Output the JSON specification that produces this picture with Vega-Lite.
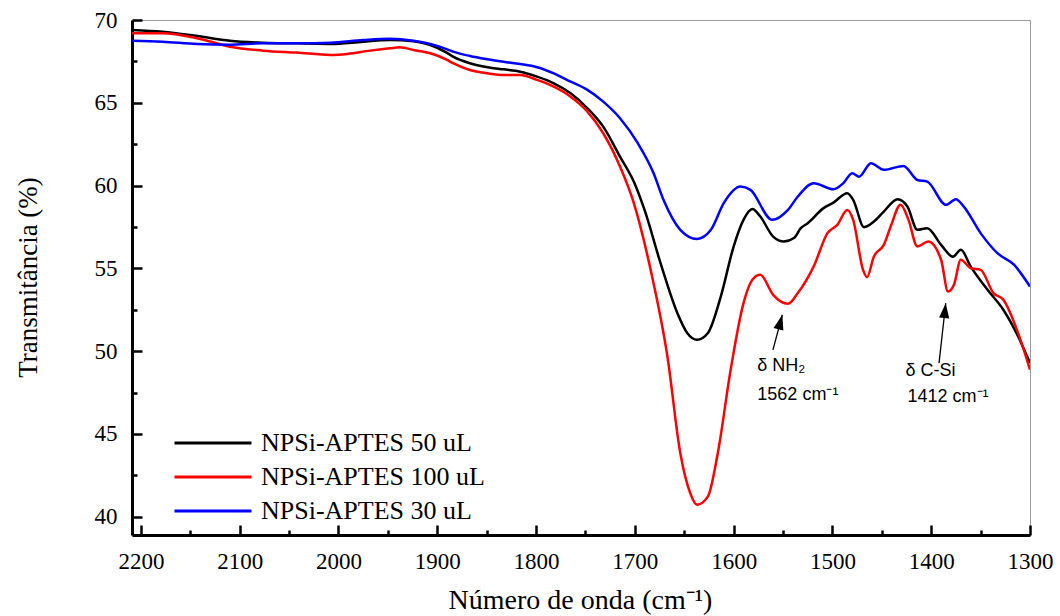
{
  "$schema": "https://vega.github.io/schema/vega-lite/v6.json",
  "width": 898,
  "height": 515,
  "autosize": "none",
  "padding": {"left": 132, "top": 20, "right": 30, "bottom": 81},
  "background": "white",
  "config": {
    "view": {"stroke": "#9a9a9a", "strokeWidth": 1},
    "font": "Liberation Serif"
  },
  "datasets": {
    "spec": [
      {"s": "NPSi-APTES 50 uL", "w": 2209, "t": 69.40},
      {"s": "NPSi-APTES 50 uL", "w": 2178, "t": 69.29},
      {"s": "NPSi-APTES 50 uL", "w": 2143, "t": 69.03},
      {"s": "NPSi-APTES 50 uL", "w": 2110, "t": 68.75},
      {"s": "NPSi-APTES 50 uL", "w": 2076, "t": 68.63},
      {"s": "NPSi-APTES 50 uL", "w": 2042, "t": 68.59},
      {"s": "NPSi-APTES 50 uL", "w": 2008, "t": 68.55},
      {"s": "NPSi-APTES 50 uL", "w": 1975, "t": 68.69},
      {"s": "NPSi-APTES 50 uL", "w": 1948, "t": 68.79},
      {"s": "NPSi-APTES 50 uL", "w": 1924, "t": 68.71},
      {"s": "NPSi-APTES 50 uL", "w": 1907, "t": 68.49},
      {"s": "NPSi-APTES 50 uL", "w": 1890, "t": 68.01},
      {"s": "NPSi-APTES 50 uL", "w": 1884, "t": 67.79},
      {"s": "NPSi-APTES 50 uL", "w": 1867, "t": 67.39},
      {"s": "NPSi-APTES 50 uL", "w": 1849, "t": 67.15},
      {"s": "NPSi-APTES 50 uL", "w": 1833, "t": 67.02},
      {"s": "NPSi-APTES 50 uL", "w": 1816, "t": 66.88},
      {"s": "NPSi-APTES 50 uL", "w": 1799, "t": 66.58},
      {"s": "NPSi-APTES 50 uL", "w": 1782, "t": 66.18},
      {"s": "NPSi-APTES 50 uL", "w": 1765, "t": 65.58},
      {"s": "NPSi-APTES 50 uL", "w": 1748, "t": 64.67},
      {"s": "NPSi-APTES 50 uL", "w": 1732, "t": 63.56},
      {"s": "NPSi-APTES 50 uL", "w": 1715, "t": 61.75},
      {"s": "NPSi-APTES 50 uL", "w": 1700, "t": 60.10},
      {"s": "NPSi-APTES 50 uL", "w": 1690, "t": 58.50},
      {"s": "NPSi-APTES 50 uL", "w": 1674, "t": 55.32},
      {"s": "NPSi-APTES 50 uL", "w": 1657, "t": 52.31},
      {"s": "NPSi-APTES 50 uL", "w": 1647, "t": 51.10},
      {"s": "NPSi-APTES 50 uL", "w": 1637, "t": 50.69},
      {"s": "NPSi-APTES 50 uL", "w": 1626, "t": 51.10},
      {"s": "NPSi-APTES 50 uL", "w": 1613, "t": 53.30},
      {"s": "NPSi-APTES 50 uL", "w": 1600, "t": 56.32},
      {"s": "NPSi-APTES 50 uL", "w": 1590, "t": 57.93},
      {"s": "NPSi-APTES 50 uL", "w": 1581, "t": 58.58},
      {"s": "NPSi-APTES 50 uL", "w": 1573, "t": 58.13},
      {"s": "NPSi-APTES 50 uL", "w": 1560, "t": 56.92},
      {"s": "NPSi-APTES 50 uL", "w": 1549, "t": 56.62},
      {"s": "NPSi-APTES 50 uL", "w": 1539, "t": 56.83},
      {"s": "NPSi-APTES 50 uL", "w": 1532, "t": 57.43},
      {"s": "NPSi-APTES 50 uL", "w": 1525, "t": 57.73},
      {"s": "NPSi-APTES 50 uL", "w": 1509, "t": 58.64},
      {"s": "NPSi-APTES 50 uL", "w": 1499, "t": 58.97},
      {"s": "NPSi-APTES 50 uL", "w": 1485, "t": 59.54},
      {"s": "NPSi-APTES 50 uL", "w": 1479, "t": 59.14},
      {"s": "NPSi-APTES 50 uL", "w": 1468, "t": 57.49},
      {"s": "NPSi-APTES 50 uL", "w": 1458, "t": 57.83},
      {"s": "NPSi-APTES 50 uL", "w": 1448, "t": 58.43},
      {"s": "NPSi-APTES 50 uL", "w": 1434, "t": 59.18},
      {"s": "NPSi-APTES 50 uL", "w": 1424, "t": 58.73},
      {"s": "NPSi-APTES 50 uL", "w": 1414, "t": 57.33},
      {"s": "NPSi-APTES 50 uL", "w": 1404, "t": 57.43},
      {"s": "NPSi-APTES 50 uL", "w": 1390, "t": 56.42},
      {"s": "NPSi-APTES 50 uL", "w": 1378, "t": 55.71},
      {"s": "NPSi-APTES 50 uL", "w": 1370, "t": 56.12},
      {"s": "NPSi-APTES 50 uL", "w": 1360, "t": 55.11},
      {"s": "NPSi-APTES 50 uL", "w": 1343, "t": 53.71},
      {"s": "NPSi-APTES 50 uL", "w": 1327, "t": 52.50},
      {"s": "NPSi-APTES 50 uL", "w": 1312, "t": 50.89},
      {"s": "NPSi-APTES 50 uL", "w": 1300, "t": 49.28},

      {"s": "NPSi-APTES 100 uL", "w": 2209, "t": 69.20},
      {"s": "NPSi-APTES 100 uL", "w": 2178, "t": 69.20},
      {"s": "NPSi-APTES 100 uL", "w": 2143, "t": 68.90},
      {"s": "NPSi-APTES 100 uL", "w": 2110, "t": 68.39},
      {"s": "NPSi-APTES 100 uL", "w": 2076, "t": 68.15},
      {"s": "NPSi-APTES 100 uL", "w": 2042, "t": 68.03},
      {"s": "NPSi-APTES 100 uL", "w": 2008, "t": 67.89},
      {"s": "NPSi-APTES 100 uL", "w": 1991, "t": 67.95},
      {"s": "NPSi-APTES 100 uL", "w": 1968, "t": 68.15},
      {"s": "NPSi-APTES 100 uL", "w": 1948, "t": 68.29},
      {"s": "NPSi-APTES 100 uL", "w": 1938, "t": 68.35},
      {"s": "NPSi-APTES 100 uL", "w": 1924, "t": 68.19},
      {"s": "NPSi-APTES 100 uL", "w": 1907, "t": 67.99},
      {"s": "NPSi-APTES 100 uL", "w": 1890, "t": 67.59},
      {"s": "NPSi-APTES 100 uL", "w": 1884, "t": 67.39},
      {"s": "NPSi-APTES 100 uL", "w": 1867, "t": 66.98},
      {"s": "NPSi-APTES 100 uL", "w": 1849, "t": 66.78},
      {"s": "NPSi-APTES 100 uL", "w": 1833, "t": 66.68},
      {"s": "NPSi-APTES 100 uL", "w": 1816, "t": 66.68},
      {"s": "NPSi-APTES 100 uL", "w": 1799, "t": 66.38},
      {"s": "NPSi-APTES 100 uL", "w": 1782, "t": 65.97},
      {"s": "NPSi-APTES 100 uL", "w": 1765, "t": 65.37},
      {"s": "NPSi-APTES 100 uL", "w": 1748, "t": 64.47},
      {"s": "NPSi-APTES 100 uL", "w": 1732, "t": 63.16},
      {"s": "NPSi-APTES 100 uL", "w": 1715, "t": 61.15},
      {"s": "NPSi-APTES 100 uL", "w": 1701, "t": 58.94},
      {"s": "NPSi-APTES 100 uL", "w": 1684, "t": 54.91},
      {"s": "NPSi-APTES 100 uL", "w": 1667, "t": 49.68},
      {"s": "NPSi-APTES 100 uL", "w": 1654, "t": 43.85},
      {"s": "NPSi-APTES 100 uL", "w": 1644, "t": 41.44},
      {"s": "NPSi-APTES 100 uL", "w": 1637, "t": 40.73},
      {"s": "NPSi-APTES 100 uL", "w": 1626, "t": 41.23},
      {"s": "NPSi-APTES 100 uL", "w": 1616, "t": 43.85},
      {"s": "NPSi-APTES 100 uL", "w": 1603, "t": 48.88},
      {"s": "NPSi-APTES 100 uL", "w": 1590, "t": 52.90},
      {"s": "NPSi-APTES 100 uL", "w": 1581, "t": 54.31},
      {"s": "NPSi-APTES 100 uL", "w": 1573, "t": 54.61},
      {"s": "NPSi-APTES 100 uL", "w": 1560, "t": 53.40},
      {"s": "NPSi-APTES 100 uL", "w": 1545, "t": 52.86},
      {"s": "NPSi-APTES 100 uL", "w": 1535, "t": 53.51},
      {"s": "NPSi-APTES 100 uL", "w": 1519, "t": 55.11},
      {"s": "NPSi-APTES 100 uL", "w": 1505, "t": 57.13},
      {"s": "NPSi-APTES 100 uL", "w": 1495, "t": 57.63},
      {"s": "NPSi-APTES 100 uL", "w": 1485, "t": 58.53},
      {"s": "NPSi-APTES 100 uL", "w": 1479, "t": 57.93},
      {"s": "NPSi-APTES 100 uL", "w": 1469, "t": 54.91},
      {"s": "NPSi-APTES 100 uL", "w": 1465, "t": 54.47},
      {"s": "NPSi-APTES 100 uL", "w": 1458, "t": 55.72},
      {"s": "NPSi-APTES 100 uL", "w": 1448, "t": 56.42},
      {"s": "NPSi-APTES 100 uL", "w": 1441, "t": 57.53},
      {"s": "NPSi-APTES 100 uL", "w": 1431, "t": 58.84},
      {"s": "NPSi-APTES 100 uL", "w": 1423, "t": 57.93},
      {"s": "NPSi-APTES 100 uL", "w": 1414, "t": 56.32},
      {"s": "NPSi-APTES 100 uL", "w": 1403, "t": 56.62},
      {"s": "NPSi-APTES 100 uL", "w": 1390, "t": 55.52},
      {"s": "NPSi-APTES 100 uL", "w": 1383, "t": 53.60},
      {"s": "NPSi-APTES 100 uL", "w": 1377, "t": 54.01},
      {"s": "NPSi-APTES 100 uL", "w": 1370, "t": 55.52},
      {"s": "NPSi-APTES 100 uL", "w": 1360, "t": 55.01},
      {"s": "NPSi-APTES 100 uL", "w": 1350, "t": 54.91},
      {"s": "NPSi-APTES 100 uL", "w": 1337, "t": 53.51},
      {"s": "NPSi-APTES 100 uL", "w": 1327, "t": 53.10},
      {"s": "NPSi-APTES 100 uL", "w": 1312, "t": 51.09},
      {"s": "NPSi-APTES 100 uL", "w": 1300, "t": 48.88},

      {"s": "NPSi-APTES 30 uL", "w": 2209, "t": 68.75},
      {"s": "NPSi-APTES 30 uL", "w": 2178, "t": 68.69},
      {"s": "NPSi-APTES 30 uL", "w": 2143, "t": 68.55},
      {"s": "NPSi-APTES 30 uL", "w": 2110, "t": 68.51},
      {"s": "NPSi-APTES 30 uL", "w": 2076, "t": 68.59},
      {"s": "NPSi-APTES 30 uL", "w": 2042, "t": 68.59},
      {"s": "NPSi-APTES 30 uL", "w": 2008, "t": 68.63},
      {"s": "NPSi-APTES 30 uL", "w": 1975, "t": 68.79},
      {"s": "NPSi-APTES 30 uL", "w": 1948, "t": 68.87},
      {"s": "NPSi-APTES 30 uL", "w": 1924, "t": 68.75},
      {"s": "NPSi-APTES 30 uL", "w": 1907, "t": 68.55},
      {"s": "NPSi-APTES 30 uL", "w": 1890, "t": 68.23},
      {"s": "NPSi-APTES 30 uL", "w": 1884, "t": 68.09},
      {"s": "NPSi-APTES 30 uL", "w": 1867, "t": 67.83},
      {"s": "NPSi-APTES 30 uL", "w": 1849, "t": 67.63},
      {"s": "NPSi-APTES 30 uL", "w": 1833, "t": 67.48},
      {"s": "NPSi-APTES 30 uL", "w": 1816, "t": 67.34},
      {"s": "NPSi-APTES 30 uL", "w": 1799, "t": 67.15},
      {"s": "NPSi-APTES 30 uL", "w": 1782, "t": 66.78},
      {"s": "NPSi-APTES 30 uL", "w": 1765, "t": 66.28},
      {"s": "NPSi-APTES 30 uL", "w": 1748, "t": 65.78},
      {"s": "NPSi-APTES 30 uL", "w": 1732, "t": 65.07},
      {"s": "NPSi-APTES 30 uL", "w": 1715, "t": 64.07},
      {"s": "NPSi-APTES 30 uL", "w": 1697, "t": 62.56},
      {"s": "NPSi-APTES 30 uL", "w": 1681, "t": 60.75},
      {"s": "NPSi-APTES 30 uL", "w": 1671, "t": 59.14},
      {"s": "NPSi-APTES 30 uL", "w": 1654, "t": 57.33},
      {"s": "NPSi-APTES 30 uL", "w": 1637, "t": 56.78},
      {"s": "NPSi-APTES 30 uL", "w": 1623, "t": 57.33},
      {"s": "NPSi-APTES 30 uL", "w": 1610, "t": 58.94},
      {"s": "NPSi-APTES 30 uL", "w": 1593, "t": 59.94},
      {"s": "NPSi-APTES 30 uL", "w": 1583, "t": 59.74},
      {"s": "NPSi-APTES 30 uL", "w": 1561, "t": 57.93},
      {"s": "NPSi-APTES 30 uL", "w": 1545, "t": 58.53},
      {"s": "NPSi-APTES 30 uL", "w": 1535, "t": 59.34},
      {"s": "NPSi-APTES 30 uL", "w": 1519, "t": 60.14},
      {"s": "NPSi-APTES 30 uL", "w": 1499, "t": 59.78},
      {"s": "NPSi-APTES 30 uL", "w": 1489, "t": 60.14},
      {"s": "NPSi-APTES 30 uL", "w": 1480, "t": 60.75},
      {"s": "NPSi-APTES 30 uL", "w": 1473, "t": 60.54},
      {"s": "NPSi-APTES 30 uL", "w": 1461, "t": 61.35},
      {"s": "NPSi-APTES 30 uL", "w": 1448, "t": 60.95},
      {"s": "NPSi-APTES 30 uL", "w": 1428, "t": 61.19},
      {"s": "NPSi-APTES 30 uL", "w": 1414, "t": 60.34},
      {"s": "NPSi-APTES 30 uL", "w": 1404, "t": 60.24},
      {"s": "NPSi-APTES 30 uL", "w": 1385, "t": 58.84},
      {"s": "NPSi-APTES 30 uL", "w": 1375, "t": 59.18},
      {"s": "NPSi-APTES 30 uL", "w": 1367, "t": 58.73},
      {"s": "NPSi-APTES 30 uL", "w": 1350, "t": 57.13},
      {"s": "NPSi-APTES 30 uL", "w": 1333, "t": 55.92},
      {"s": "NPSi-APTES 30 uL", "w": 1316, "t": 55.21},
      {"s": "NPSi-APTES 30 uL", "w": 1300, "t": 53.90}
    ],
    "notes": [
      {"w": 1576, "t": 49.09, "label": "δ NH₂"},
      {"w": 1576, "t": 47.34, "label": "1562 cm⁻¹"},
      {"w": 1426, "t": 48.79, "label": "δ C-Si"},
      {"w": 1424, "t": 47.22, "label": "1412 cm⁻¹"}
    ],
    "arrows": [
      {"k": "NH2", "w1": 1560.2, "t1": 50.08, "w2": 1550.7, "t2": 52.20},
      {"k": "CSi", "w1": 1392.1, "t1": 49.28, "w2": 1385.3, "t2": 52.90}
    ]
  },
  "layer": [
    {
      "data": {"name": "spec"},
      "mark": {"type": "line", "interpolate": "monotone", "strokeWidth": 2.5, "clip": true},
      "encoding": {
        "x": {
          "field": "w", "type": "quantitative",
          "scale": {"domain": [1300, 2209], "reverse": true, "nice": false, "zero": false},
          "axis": {
            "values": [2200, 2100, 2000, 1900, 1800, 1700, 1600, 1500, 1400, 1300],
            "format": "d",
            "title": "Número de onda (cm⁻¹)",
            "grid": false,
            "domainColor": "black", "domainWidth": 3,
            "tickColor": "black", "tickWidth": 2.5, "tickSize": -10,
            "labelFont": "Liberation Serif", "labelFontSize": 23, "labelColor": "black",
            "labelPadding": 25, "labelFlush": false, "labelOverlap": false,
            "titleFont": "Liberation Serif", "titleFontSize": 28, "titleFontWeight": "normal",
            "titleColor": "black", "titleX": 448, "titleY": 65, "titleBaseline": "middle", "titleAlign": "center"
          }
        },
        "y": {
          "field": "t", "type": "quantitative",
          "scale": {"domain": [38.9, 70], "nice": false, "zero": false},
          "axis": {
            "values": [40, 45, 50, 55, 60, 65, 70],
            "title": "Transmitância (%)",
            "grid": false,
            "domainColor": "black", "domainWidth": 3,
            "tickColor": "black", "tickWidth": 2.5, "tickSize": -10,
            "labelFont": "Liberation Serif", "labelFontSize": 23, "labelColor": "black",
            "labelPadding": 25, "labelFlush": false, "labelOverlap": false,
            "titleFont": "Liberation Serif", "titleFontSize": 27, "titleFontWeight": "normal",
            "titleColor": "black", "titleX": -104, "titleY": 257, "titleAngle": -90,
            "titleBaseline": "middle", "titleAlign": "center"
          }
        },
        "color": {
          "field": "s", "type": "nominal",
          "scale": {
            "domain": ["NPSi-APTES 50 uL", "NPSi-APTES 100 uL", "NPSi-APTES 30 uL"],
            "range": ["#000000", "#ff0000", "#0000ff"]
          },
          "legend": {
            "orient": "none", "legendX": 60, "legendY": 402,
            "title": null, "symbolType": "M-2,0H2", "symbolSize": 1482, "symbolStrokeWidth": 3,
            "labelFont": "Liberation Serif", "labelFontSize": 26, "labelColor": "black",
            "labelLimit": 600,
            "labelOffset": 27, "rowPadding": 0, "padding": 0
          }
        }
      }
    },
    {
      "data": {"name": "notes"},
      "mark": {"type": "text", "font": "Liberation Sans", "fontSize": 18, "align": "left", "baseline": "middle", "color": "black"},
      "encoding": {
        "x": {
          "field": "w", "type": "quantitative",
          "scale": {"domain": [1300, 2209], "reverse": true, "nice": false, "zero": false},
          "axis": {
            "orient": "bottom",
            "values": [2150, 2050, 1950, 1850, 1750, 1650, 1550, 1450, 1350],
            "labels": false, "title": null, "grid": false, "domain": false,
            "tickColor": "black", "tickWidth": 2.5, "tickSize": -5
          }
        },
        "y": {
          "field": "t", "type": "quantitative",
          "scale": {"domain": [38.9, 70], "nice": false, "zero": false},
          "axis": {
            "orient": "left",
            "values": [42.5, 47.5, 52.5, 57.5, 62.5, 67.5],
            "labels": false, "title": null, "grid": false, "domain": false,
            "tickColor": "black", "tickWidth": 2.5, "tickSize": -5
          }
        },
        "text": {"field": "label", "type": "nominal"}
      }
    },
    {
      "data": {"name": "arrows"},
      "mark": {"type": "rule", "color": "black", "strokeWidth": 1.3},
      "encoding": {
        "x": {"field": "w1", "type": "quantitative", "axis": null,
              "scale": {"domain": [1300, 2209], "reverse": true, "nice": false, "zero": false}},
        "y": {"field": "t1", "type": "quantitative", "axis": null,
              "scale": {"domain": [38.9, 70], "nice": false, "zero": false}},
        "x2": {"field": "w2"},
        "y2": {"field": "t2"}
      }
    },
    {
      "data": {"name": "arrows"},
      "transform": [{"filter": "datum.k == 'NH2'"}],
      "mark": {"type": "point", "shape": "M0,0L-0.34,1L0.34,1Z", "size": 900, "filled": true, "color": "black", "opacity": 1, "angle": 15},
      "encoding": {
        "x": {"field": "w2", "type": "quantitative", "axis": null,
              "scale": {"domain": [1300, 2209], "reverse": true, "nice": false, "zero": false}},
        "y": {"field": "t2", "type": "quantitative", "axis": null,
              "scale": {"domain": [38.9, 70], "nice": false, "zero": false}}
      }
    },
    {
      "data": {"name": "arrows"},
      "transform": [{"filter": "datum.k == 'CSi'"}],
      "mark": {"type": "point", "shape": "M0,0L-0.34,1L0.34,1Z", "size": 900, "filled": true, "color": "black", "opacity": 1, "angle": 6},
      "encoding": {
        "x": {"field": "w2", "type": "quantitative", "axis": null,
              "scale": {"domain": [1300, 2209], "reverse": true, "nice": false, "zero": false}},
        "y": {"field": "t2", "type": "quantitative", "axis": null,
              "scale": {"domain": [38.9, 70], "nice": false, "zero": false}}
      }
    }
  ],
  "resolve": {"axis": {"x": "independent", "y": "independent"}}
}
